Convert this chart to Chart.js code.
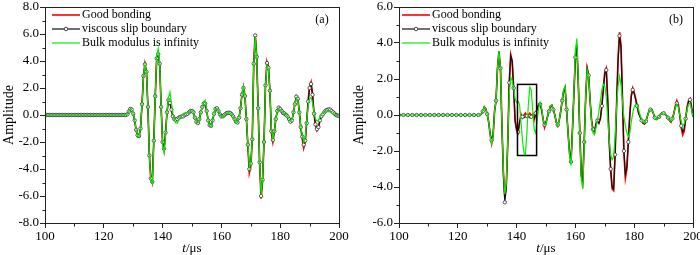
<!DOCTYPE html>
<html>
<head>
<meta charset="utf-8">
<script src="https://cdn.jsdelivr.net/npm/chart.js@4.4.1/dist/chart.umd.min.js"></script>
<style>
  html, body { margin: 0; padding: 0; background: #fff; }
  #wrap { position: relative; width: 700px; height: 255px; }
  .panel { position: absolute; top: 0; width: 350px; height: 255px; }
</style>
</head>
<body>
<div id="wrap">
  <div class="panel" style="left:0"><canvas id="chartA" width="350" height="255"></canvas></div>
  <div class="panel" style="left:350px"><canvas id="chartB" width="350" height="255"></canvas></div>
</div>
<script>
// sampling grid of the waveforms (us)
const tStart = 100;
const tStep = 0.5;

const seriesNames = ['Good bonding', 'viscous slip boundary', 'Bulk modulus is infinity'];
const seriesColors = ['#ff0000', '#111111', '#00ee00'];

// 100 .. 127 us, before the first arrival
const quiet = [0,0,0,0,0,0,0,0,0,0, 0,0,0,0,0,0,0,0,0,0, 0,0,0,0,0,0,0,0,0,0,
               0,0,0,0,0,0,0,0,0,0, 0,0,0,0,0,0,0,0,0,0, 0,0,0,0,0];

// panel (a), 127.5 .. 200 us
const goodA = quiet.concat([
  0, 0.05, 0.25, 0.45, 0.4, 0.1, -0.4, -1.15, -1.6, -1.6,
  -1.0, 0.8, 2.9, 3.8, 3.25, 0.6, -3.0, -4.75, -5.05, -1.95,
  1.4, 4.25, 4.55, 3.85, 0.6, -2.05, -2.6, -1.35, 0.2, 1.15,
  0.9, 0.4, -0.1, -0.3, -0.35, -0.3, -0.2, -0.15, -0.1, -0.1,
  0, 0.05, 0.1, 0.2, 0.3, 0.3, 0.2, -0.2, -0.5, -0.6,
  -0.3, 0.2, 0.6, 0.85, 0.85, 0.3, -0.4, -0.75, -0.8, -0.4,
  0.1, 0.45, 0.5, 0.3, 0.05, -0.1, -0.1, 0, 0.1, 0.15,
  0.17, 0.15, 0.05, -0.1, -0.3, -0.5, -0.55, -0.2, 0.5, 1.55,
  2.1, 1.45, -0.3, -2.3, -4.3, -3.8, -1.8, 3.9, 6.0, 4.4,
  0.5, -3.6, -6.2, -4.9, -2.0, 2.2, 3.95, 3.6, 1.8, -1.3,
  -2.0, -1.3, -0.3, 0.3, 0.55, 0.45, 0.3, 0.15, 0.1, 0,
  -0.1, -0.3, -0.5, -0.4, 0.2, 0.8, 1.4, 1.25, 0.2, -0.95,
  -1.75, -2.45, -2.05, -0.6, 1.05, 2.1, 2.45, 1.55, 0.1, -0.75,
  -1.15, -0.95, -0.4, -0.1, 0.05, 0.2, 0.33, 0.38, 0.42, 0.4,
  0.3, 0.2, 0.1, 0, -0.05, -0.05
]);
const slipA = quiet.concat([
  0, 0.05, 0.25, 0.45, 0.4, 0.1, -0.4, -1.1, -1.5, -1.55,
  -1.0, 0.8, 2.9, 3.75, 3.2, 0.6, -3.0, -4.7, -4.95, -1.9,
  1.4, 4.2, 4.5, 3.8, 0.6, -2.0, -2.5, -1.3, 0.2, 1.1,
  0.9, 0.4, -0.1, -0.3, -0.35, -0.3, -0.2, -0.15, -0.1, -0.1,
  0, 0.05, 0.1, 0.2, 0.3, 0.3, 0.2, -0.2, -0.5, -0.6,
  -0.3, 0.2, 0.6, 0.85, 0.85, 0.3, -0.4, -0.75, -0.8, -0.4,
  0.1, 0.45, 0.5, 0.3, 0.05, -0.1, -0.1, 0, 0.1, 0.15,
  0.17, 0.15, 0.05, -0.1, -0.3, -0.5, -0.55, -0.2, 0.5, 1.5,
  2.0, 1.4, -0.3, -2.2, -4.0, -3.6, -1.8, 3.8, 5.9, 4.3,
  0.5, -3.5, -6.0, -4.8, -2.0, 2.2, 3.85, 3.5, 1.8, -1.2,
  -1.85, -1.2, -0.3, 0.3, 0.55, 0.45, 0.3, 0.15, 0.1, 0,
  -0.1, -0.3, -0.5, -0.4, 0.2, 0.8, 1.36, 1.2, 0.2, -0.9,
  -1.6, -2.2, -1.9, -0.6, 1.0, 2.0, 2.3, 1.5, 0.1, -0.7,
  -1.05, -0.9, -0.4, -0.1, 0.05, 0.2, 0.33, 0.38, 0.42, 0.4,
  0.3, 0.2, 0.1, 0, -0.05, -0.05
]);
const rigidA = quiet.concat([
  0, 0.05, 0.25, 0.45, 0.4, 0.1, -0.4, -1.1, -1.55, -1.6,
  -1.0, 0.8, 2.9, 3.7, 3.2, 0.6, -3.1, -4.9, -5.1, -2.1,
  1.4, 4.4, 4.9, 3.9, 0.5, -2.2, -2.8, -1.5, 0.3, 1.3,
  1.7, 0.9, 0.1, -0.4, -0.6, -0.6, -0.4, -0.15, 0, 0.1,
  0.15, 0.15, 0.15, 0.2, 0.3, 0.3, 0.2, -0.2, -0.5, -0.6,
  -0.35, 0.2, 0.7, 1.0, 1.1, 0.4, -0.4, -0.8, -0.85, -0.4,
  0.1, 0.45, 0.5, 0.3, 0.05, -0.1, -0.1, 0, 0.1, 0.15,
  0.17, 0.15, 0.05, -0.1, -0.3, -0.5, -0.55, -0.2, 0.5, 1.5,
  2.1, 1.4, -0.3, -2.1, -3.9, -3.6, -1.8, 3.8, 5.8, 4.3,
  0.5, -3.5, -5.9, -4.7, -2.0, 2.2, 3.7, 3.4, 1.8, -1.1,
  -1.75, -1.2, -0.3, 0.3, 0.5, 0.4, 0.3, 0.15, 0.1, 0,
  -0.1, -0.3, -0.45, -0.35, 0.2, 0.75, 1.25, 1.15, 0.2, -0.8,
  -1.5, -2.0, -1.7, -0.5, 0.7, 1.2, 1.3, 0.9, 0.2, -0.3,
  -0.45, -0.4, -0.15, 0.05, 0.15, 0.2, 0.25, 0.25, 0.25, 0.22,
  0.15, 0.1, 0.05, 0, -0.05, -0.05
]);

// panel (b), 127.5 .. 200 us
const goodB = quiet.concat([
  0, 0.05, 0.2, 0.45, 0.35, 0.05, -0.4, -1.1, -1.6, -1.2,
  0.2, 0.8, 2.6, 3.55, 2.6, -0.5, -3.2, -4.6, -3.9, -1.5,
  1.8, 3.35, 3.0, 1.5, -0.35, -0.85, -1.0, -0.45, 0.05, -0.15,
  0, 0.1, -0.1, 0, 0.1, -0.05, 0.05, -0.25, 0.1, 0.35,
  0.6, 0.6, 0.3, -0.25, -0.7, -0.45, -0.1, 0.2, 0.5, 0.55,
  0.3, 0, -0.4, -0.6, -0.3, 0.2, 0.8, 1.35, 1.55, 0.3,
  -1.0, -2.1, -2.7, -0.8, 1.2, 3.3, 3.9, 1.7, -1.0, -3.3,
  -3.7, -1.5, 1.0, 2.6, 2.2, 0.8, -0.3, -0.85, -0.95, -0.5,
  -0.25, -0.45, -0.2, 0.5, 1.5, 2.4, 2.6, 0.8, -1.5, -3.1,
  -4.1, -4.2, -2.2, 0.5, 3.1, 4.6, 3.9, 1.0, -2.1, -3.5,
  -3.0, -1.5, 0, 1.1, 1.5, 1.25, 0.9, 0.5, 0.1, -0.1,
  -0.3, -0.45, -0.5, -0.35, -0.05, 0.2, 0.3, 0.3, 0.1, -0.15,
  -0.25, -0.2, -0.1, 0.05, 0.12, 0.1, 0.05, -0.05, -0.15, -0.3,
  -0.4, -0.2, 0.1, 0.5, 0.8, 0.6, 0, -0.7, -1.1, -0.9,
  -0.2, 0.45, 0.8, 0.9, 0.45, -0.1
]);
const slipB = quiet.concat([
  0, 0.05, 0.2, 0.45, 0.35, 0.05, -0.4, -1.0, -1.4, -1.1,
  0.2, 0.8, 2.6, 3.5, 2.6, -0.5, -3.3, -4.85, -4.0, -1.5,
  1.8, 3.3, 3.0, 1.5, -0.3, -0.8, -0.95, -0.4, -0.1, -0.1,
  -0.15, -0.1, -0.05, -0.1, -0.15, -0.1, -0.1, -0.2, 0.1, 0.3,
  0.55, 0.6, 0.3, -0.2, -0.55, -0.4, -0.1, 0.2, 0.45, 0.5,
  0.3, 0, -0.4, -0.55, -0.3, 0.2, 0.8, 1.3, 1.5, 0.3,
  -1.0, -2.0, -2.6, -0.8, 1.2, 3.2, 3.8, 1.7, -1.0, -3.4,
  -3.7, -1.5, 1.0, 2.6, 2.2, 0.8, -0.3, -0.8, -0.9, -0.5,
  -0.3, -0.45, -0.2, 0.5, 1.4, 2.3, 2.5, 0.8, -1.5, -3.0,
  -4.0, -4.1, -2.2, 0.5, 3.0, 4.4, 3.8, 1.0, -2.0, -3.3,
  -2.9, -1.5, 0, 1.0, 1.4, 1.2, 0.85, 0.5, 0.1, -0.1,
  -0.3, -0.45, -0.5, -0.35, -0.05, 0.2, 0.3, 0.3, 0.1, -0.15,
  -0.25, -0.2, -0.1, 0.05, 0.12, 0.1, 0.05, -0.05, -0.15, -0.3,
  -0.35, -0.2, 0.1, 0.45, 0.65, 0.5, 0, -0.6, -0.95, -0.8,
  -0.2, 0.4, 0.75, 0.85, 0.4, -0.1
]);
const rigidB = quiet.concat([
  0, 0.05, 0.2, 0.45, 0.35, 0.05, -0.4, -1.1, -1.6, -1.2,
  0.2, 0.8, 2.6, 3.55, 2.6, -0.5, -3.1, -4.4, -3.8, -1.4,
  1.2, 2.1, 1.9, 1.5, 0.9, 0.7, 0.75, 0.6, -0.4, -1.4,
  -2.1, -2.2, -1.0, 0.6, 1.55, 1.4, 0.2, -0.8, -1.0, -0.3,
  0.4, 0.7, 0.4, -0.2, -0.55, -0.5, -0.1, 0.2, 0.5, 0.55,
  0.3, 0, -0.4, -0.6, -0.3, 0.2, 0.85, 1.4, 1.6, 0.3,
  -1.0, -2.2, -2.8, -0.8, 1.3, 3.6, 4.25, 1.8, -1.2, -3.6,
  -4.1, -1.7, 1.0, 2.5, 2.1, 0.8, -0.4, -1.0, -1.1, -0.7,
  -0.3, 0.2, 0.8, 1.4, 1.7, 1.6, 1.0, -0.2, -1.4, -2.2,
  -2.5, -2.3, -1.2, 0.4, 1.6, 2.15, 1.7, 0.8, -0.1, -0.6,
  -1.0, -1.2, -1.0, -0.4, 0.1, 0.45, 0.6, 0.55, 0.3, 0,
  -0.25, -0.4, -0.45, -0.3, -0.05, 0.2, 0.3, 0.3, 0.1, -0.15,
  -0.25, -0.2, -0.1, 0.05, 0.12, 0.1, 0.05, -0.05, -0.15, -0.3,
  -0.35, -0.2, 0.1, 0.4, 0.6, 0.45, 0, -0.4, -0.6, -0.5,
  -0.1, 0.3, 0.6, 0.65, 0.3, -0.1
]);

// marked window in panel (b): time span and amplitude span
const boxTime = [140.3, 146.8];
const boxAmp = [-2.25, 1.7];

const serif = "'Liberation Serif', 'Times New Roman', serif";
Chart.defaults.font.family = serif;
Chart.defaults.color = '#000';

function toPoints(vals) {
    return vals.map((v, i) => ({ x: tStart + i * tStep, y: v }));
}

const framePlugin = {
    id: 'frame',
    afterDraw(chart, args, opts) {
        const ctx = chart.ctx;
        const a = chart.chartArea;
        const x = chart.scales.x, y = chart.scales.y;
        ctx.save();
        ctx.strokeStyle = '#222';
        ctx.lineWidth = 1;
        ctx.strokeRect(a.left + 0.5, a.top + 0.5, a.right - a.left, a.bottom - a.top);

        // minor ticks
        ctx.beginPath();
        for (let t = 110; t < 200; t += 20) {
            const px = Math.round(x.getPixelForValue(t)) + 0.5;
            ctx.moveTo(px, a.bottom + 0.5);
            ctx.lineTo(px, a.bottom + 3.5);
        }
        for (let v = y.min + 1; v < y.max; v += 2) {
            const py = Math.round(y.getPixelForValue(v)) + 0.5;
            ctx.moveTo(a.left + 0.5, py);
            ctx.lineTo(a.left - 2.5, py);
        }
        ctx.stroke();

        // boxed window
        if (opts.box) {
            const x0 = x.getPixelForValue(boxTime[0]), x1 = x.getPixelForValue(boxTime[1]);
            const y0 = y.getPixelForValue(boxAmp[1]), y1 = y.getPixelForValue(boxAmp[0]);
            ctx.lineWidth = 1.5;
            ctx.strokeStyle = '#000';
            ctx.strokeRect(x0, y0, x1 - x0, y1 - y0);
        }

        ctx.fillStyle = '#000';
        // axis titles
        ctx.font = '14px ' + serif;
        ctx.textAlign = 'center';
        ctx.textBaseline = 'middle';
        ctx.save();
        ctx.translate(9.5, (a.top + a.bottom) / 2);
        ctx.rotate(-Math.PI / 2);
        ctx.fillText('Amplitude', 0, 0);
        ctx.restore();

        const cx = (a.left + a.right) / 2;
        ctx.font = 'italic 13px ' + serif;
        const wt = ctx.measureText('t').width;
        ctx.font = '13px ' + serif;
        const wr = ctx.measureText('/\u03bcs').width;
        ctx.textAlign = 'left';
        const x0 = cx - (wt + wr) / 2;
        ctx.font = 'italic 13px ' + serif;
        ctx.fillText('t', x0, 249);
        ctx.font = '13px ' + serif;
        ctx.fillText('/\u03bcs', x0 + wt, 249);

        // panel tag
        ctx.font = '12px ' + serif;
        ctx.textAlign = 'center';
        ctx.fillText(opts.tag, a.right - 17, 20);

        // legend
        ctx.textAlign = 'left';
        for (let i = 0; i < seriesNames.length; i++) {
            const ly = 15 + i * 14;
            ctx.strokeStyle = seriesColors[i];
            ctx.lineWidth = i === 0 ? 1.6 : 1.2;
            ctx.beginPath();
            ctx.moveTo(52, ly);
            ctx.lineTo(80, ly);
            ctx.stroke();
            if (i === 1) {
                ctx.beginPath();
                ctx.arc(66, ly, 1.8, 0, Math.PI * 2);
                ctx.fillStyle = '#fff';
                ctx.fill();
                ctx.lineWidth = 0.9;
                ctx.strokeStyle = '#333';
                ctx.stroke();
            }
            ctx.fillStyle = '#000';
            ctx.fillText(seriesNames[i], 82, ly);
        }
        ctx.restore();
    }
};

function makePanel(id, good, slip, rigid, yLim, markEvery, tag, box, yAxisWidth, rightPad) {
    const markerRadius = (c) => (c.dataIndex % markEvery === 0 ? 1.7 : 0);
    return new Chart(document.getElementById(id), {
        type: 'line',
        data: {
            datasets: [
                { label: seriesNames[0], data: toPoints(good), borderColor: seriesColors[0],
                  borderWidth: 1.7, pointRadius: 0, order: 3 },
                { label: seriesNames[1], data: toPoints(slip), borderColor: seriesColors[1],
                  borderWidth: 1.2, pointRadius: markerRadius, pointBackgroundColor: '#fff',
                  pointBorderColor: '#333', pointBorderWidth: 0.8, order: 2 },
                { label: seriesNames[2], data: toPoints(rigid), borderColor: seriesColors[2],
                  borderWidth: 1.2, pointRadius: 0, order: 1 }
            ]
        },
        options: {
            responsive: false,
            animation: false,
            events: [],
            layout: { padding: { left: 0, right: rightPad, top: 7, bottom: 0 } },
            elements: { line: { tension: 0 } },
            plugins: { legend: { display: false }, tooltip: { enabled: false }, frame: { tag: tag, box: box } },
            scales: {
                x: {
                    type: 'linear', min: 100, max: 200,
                    ticks: { stepSize: 20, padding: 1, maxRotation: 0, font: { size: 13 },
                             callback: (v) => String(v) },
                    grid: { display: true, drawOnChartArea: false, tickLength: 5, color: '#222' },
                    border: { display: false },
                    afterFit: (s) => { s.height = 32; s.paddingLeft = 0; s.paddingRight = 0; }
                },
                y: {
                    min: -yLim, max: yLim,
                    ticks: { stepSize: 2, padding: 1, font: { size: 13 },
                             callback: (v) => v.toFixed(1) },
                    grid: { display: true, drawOnChartArea: false, tickLength: 5, color: '#222' },
                    border: { display: false },
                    afterFit: (s) => { s.width = yAxisWidth; s.paddingTop = 0; s.paddingBottom = 0; }
                }
            }
        },
        plugins: [framePlugin]
    });
}

makePanel('chartA', goodA, slipA, rigidA, 8, 1, '(a)', false, 45, 11);
makePanel('chartB', goodB, slipB, rigidB, 6, 3, '(b)', true, 49, 7);
</script>
</body>
</html>
